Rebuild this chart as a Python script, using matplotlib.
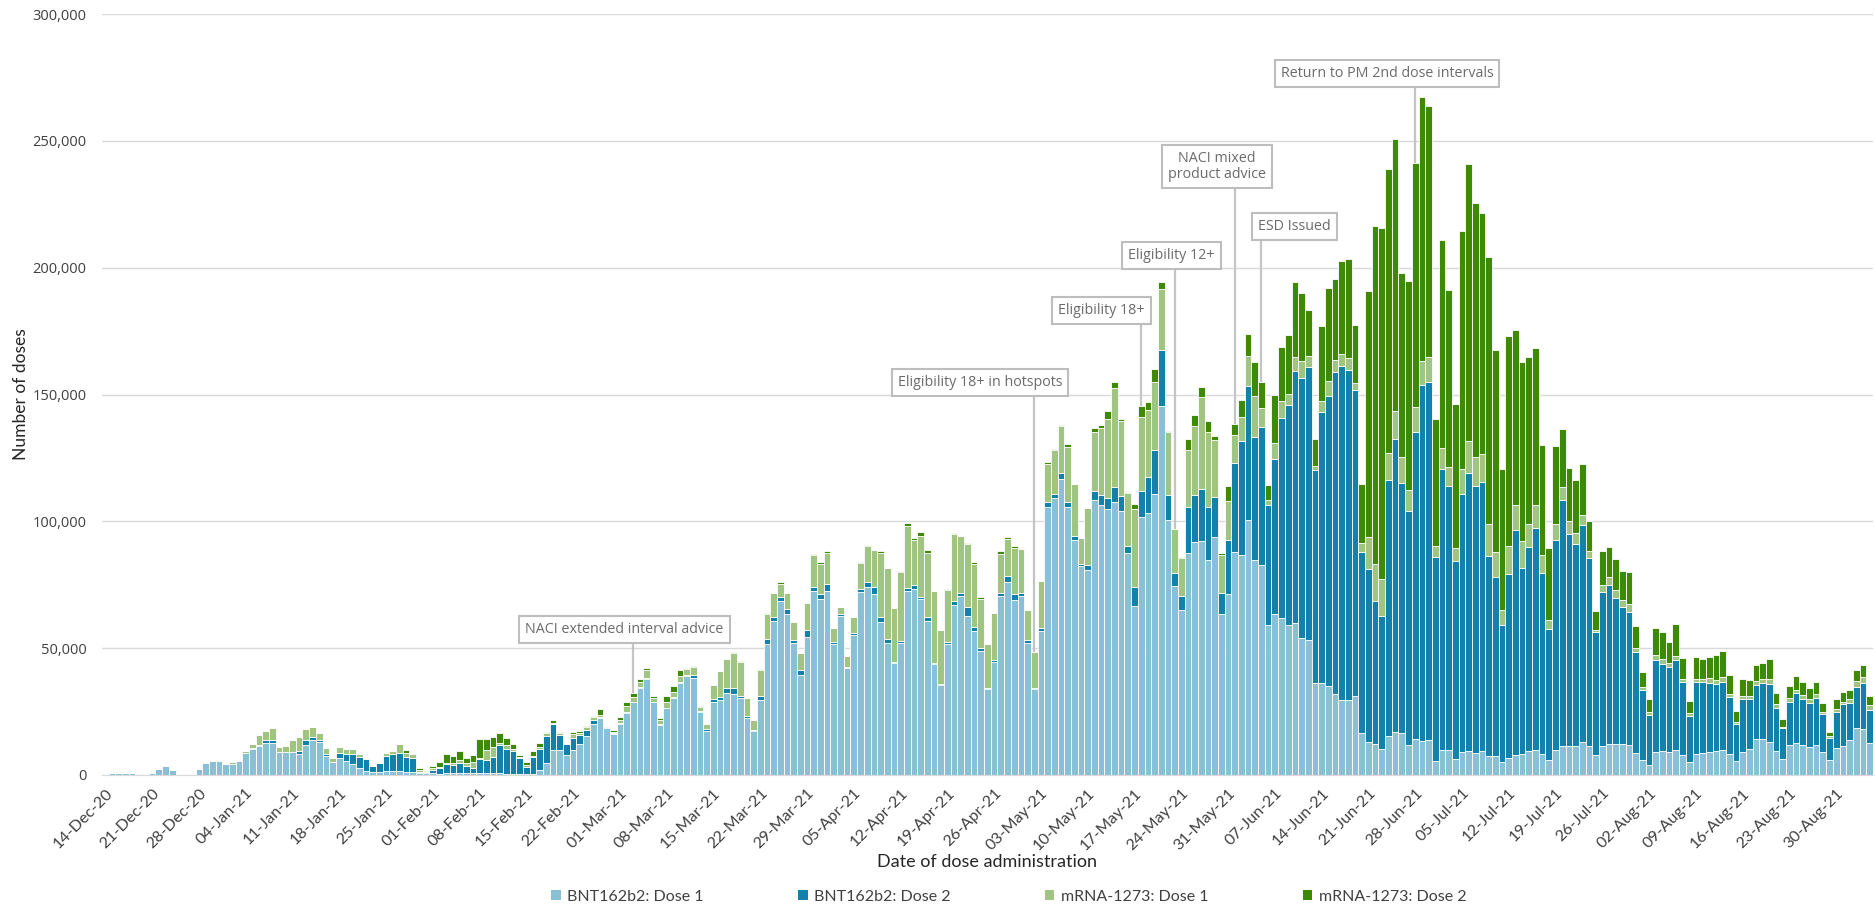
import numpy as np
import pandas as pd
import matplotlib
matplotlib.use("Agg")
import matplotlib.pyplot as plt
from matplotlib.patches import Patch
from matplotlib.ticker import FuncFormatter

# Daily doses administered, in thousands, one row per week starting 14-Dec-20
START_DATE = "2020-12-14"

bnt_d1 = [
    0.3, 0.65, 0.65, 0.9, 0.9, 0.0, 0.3,
    0.65, 2.2, 3.5, 1.8, 0.2, 0.2, 0.0,
    2.2, 4.6, 5.5, 5.5, 4.2, 4.2, 5.4,
    8.5, 10.4, 11.5, 12.8, 12.8, 8.9, 8.9,
    9.2, 8.2, 12.0, 13.7, 12.9, 7.5, 5.0,
    6.6, 5.5, 4.3, 2.6, 1.7, 1.0, 1.0,
    1.6, 1.4, 1.6, 1.0, 1.0, 0.6, 0.6,
    0.6, 0.5, 0.7, 0.6, 0.7, 0.6, 0.6,
    0.7, 0.6, 0.7, 0.7, 0.5, 0.4, 0.4,
    0.3, 0.5, 2.0, 4.9, 9.9, 9.9, 7.9,
    9.9, 12.2, 15.4, 20.1, 22.6, 18.4, 16.2,
    20.1, 24.6, 28.6, 34.2, 38.0, 28.6, 19.7,
    26.3, 30.3, 36.2, 39.1, 38.4, 25.0, 17.4,
    28.9, 29.6, 32.2, 32.0, 30.5, 22.3, 17.3,
    29.7, 51.6, 60.7, 68.5, 63.5, 52.0, 39.3,
    54.5, 72.6, 69.3, 72.6, 51.6, 62.7, 42.1,
    55.3, 72.3, 74.3, 71.3, 60.2, 52.0, 44.2,
    52.0, 72.6, 73.4, 69.3, 60.7, 43.7, 35.5,
    51.6, 67.2, 70.5, 62.7, 56.9, 48.7, 33.8,
    44.5, 70.6, 76.2, 69.0, 70.5, 52.0, 33.8,
    56.6, 105.8, 109.1, 116.7, 105.8, 92.5, 82.5,
    80.7, 108.5, 106.4, 104.9, 107.6, 104.0, 87.6,
    66.7, 101.6, 103.1, 110.7, 145.4, 100.7, 74.4,
    64.9, 87.6, 91.8, 92.2, 84.9, 94.0, 63.4,
    71.3, 88.0, 86.7, 100.7, 84.9, 82.7, 59.1,
    63.4, 61.8, 59.1, 59.8, 54.0, 53.1, 36.2,
    36.4, 34.9, 31.8, 29.5, 29.5, 31.3, 16.7,
    13.1, 12.2, 10.4, 15.5, 17.1, 16.4, 11.8,
    14.0, 13.5, 13.6, 5.5, 10.0, 10.0, 6.2,
    8.9, 9.5, 8.5, 9.5, 7.6, 7.3, 5.3,
    6.7, 8.0, 8.2, 9.5, 10.0, 8.2, 5.8,
    9.8, 11.3, 11.6, 11.6, 13.1, 11.6, 8.0,
    11.3, 12.2, 12.2, 12.2, 11.8, 8.5, 6.0,
    4.0, 9.1, 9.5, 8.9, 9.9, 7.9, 5.0,
    8.3, 8.6, 8.9, 9.5, 9.9, 8.2, 5.5,
    8.9, 10.1, 14.2, 14.2, 12.9, 9.5, 6.3,
    11.8, 12.8, 11.8, 11.2, 11.8, 8.9, 5.9,
    10.5, 11.4, 13.8, 18.4, 18.0, 12.5,
]

bnt_d2 = [
    0, 0, 0, 0, 0, 0, 0,
    0, 0, 0, 0, 0, 0, 0,
    0, 0, 0, 0, 0, 0, 0,
    0, 0.4, 0.4, 1.0, 1.0, 0, 0,
    0, 1.3, 1.8, 1.4, 0.9, 0.8, 0,
    2.0, 2.8, 3.8, 4.6, 4.5, 2.5, 3.9,
    5.9, 6.8, 7.0, 6.2, 5.8, 0.7, 0.4,
    1.4, 2.1, 3.6, 3.4, 3.9, 3.0, 2.0,
    5.5, 5.3, 6.5, 11.1, 9.9, 9.2, 6.2,
    3.0, 6.4, 8.1, 10.5, 10.2, 5.9, 4.2,
    4.6, 3.6, 2.4, 1.6, 0.4, 0.7, 0.5,
    0.2, 0.3, 0.3, 0.4, 0.3, 0.3, 0.3,
    0.3, 0.3, 0.3, 0.5, 0.9, 0.4, 0.7,
    1.0, 1.3, 2.0, 2.1, 0.8, 0.8, 0.3,
    1.6, 2.0, 1.6, 1.6, 2.0, 1.3, 2.0,
    2.5, 1.6, 2.0, 2.5, 0.8, 0.8, 0.5,
    0.8, 1.2, 1.6, 3.0, 2.1, 1.6, 0.3,
    0.8, 1.3, 1.6, 0.8, 1.6, 0.5, 0.3,
    0.8, 1.3, 1.3, 3.6, 1.3, 1.2, 0.5,
    0.8, 1.2, 2.1, 2.5, 1.3, 1.2, 0.5,
    1.2, 1.8, 1.6, 2.4, 1.8, 1.8, 0.5,
    2.2, 3.6, 4.0, 4.5, 5.8, 5.8, 2.7,
    7.3, 10.5, 14.5, 17.5, 22.2, 9.6, 5.1,
    5.5, 18.2, 18.5, 20.4, 20.9, 15.5, 8.2,
    21.3, 35.1, 45.0, 52.7, 48.5, 54.5, 47.3,
    61.1, 78.9, 86.7, 99.3, 102.7, 107.8, 84.2,
    106.7, 114.5, 127.1, 131.8, 130.3, 120.5, 71.3,
    68.2, 56.3, 52.3, 100.7, 115.4, 98.9, 92.2,
    121.3, 140.1, 141.3, 80.4, 110.7, 104.0, 78.3,
    101.8, 109.6, 105.4, 105.9, 78.8, 70.9, 53.8,
    72.7, 88.4, 73.6, 80.5, 87.3, 71.5, 51.8,
    82.7, 97.3, 83.3, 79.3, 85.4, 73.9, 48.2,
    60.9, 62.7, 57.6, 54.0, 52.5, 40.0, 27.7,
    19.6, 36.2, 34.1, 33.6, 35.3, 28.7, 18.4,
    28.2, 27.9, 27.5, 26.5, 26.7, 22.4, 14.6,
    20.9, 19.7, 21.3, 22.0, 23.0, 17.1, 12.1,
    17.1, 19.5, 18.2, 17.1, 18.4, 15.0, 8.6,
    14.2, 16.4, 14.5, 16.4, 18.2, 13.2,
]

mrna_d1 = [
    0, 0, 0, 0, 0, 0, 0,
    0, 0, 0, 0, 0, 0, 0,
    0, 0, 0, 0.6, 0, 0.9, 0.5,
    0.9, 1.4, 3.8, 3.4, 4.9, 2.1, 2.5,
    4.5, 5.3, 4.5, 3.8, 2.6, 2.5, 1.6,
    2.5, 1.8, 2.0, 1.0, 0.5, 0, 0,
    1.0, 1.4, 3.7, 1.6, 1.6, 0.6, 0.3,
    0.65, 0.65, 0.5, 0.65, 1.3, 1.0, 2.6,
    0.4, 3.9, 3.7, 0.9, 1.4, 0.5, 0.4,
    0.5, 0.7, 1.0, 1.0, 0.5, 0.7, 0.5,
    1.7, 0.9, 1.0, 1.0, 0.7, 0.4, 0.4,
    1.3, 2.2, 2.0, 2.2, 2.9, 1.4, 1.7,
    2.0, 2.1, 2.4, 2.1, 3.4, 1.3, 2.1,
    5.5, 9.9, 11.6, 14.0, 13.2, 7.1, 4.1,
    9.9, 9.9, 9.4, 5.3, 6.3, 6.9, 6.6,
    10.7, 12.4, 12.0, 12.4, 5.6, 2.8, 4.5,
    6.3, 10.2, 14.5, 14.4, 25.4, 28.0, 21.5,
    27.2, 24.4, 17.6, 24.3, 25.1, 28.4, 21.5,
    20.6, 26.4, 22.3, 24.9, 25.1, 19.6, 17.3,
    18.6, 15.3, 14.9, 17.9, 17.3, 12.0, 14.0,
    18.6, 14.9, 17.3, 18.5, 21.8, 20.5, 10.5,
    22.5, 23.3, 26.4, 30.9, 39.3, 29.6, 20.9,
    30.9, 29.1, 26.2, 26.7, 24.0, 24.9, 17.6,
    15.1, 22.4, 27.3, 36.4, 29.6, 22.7, 15.1,
    15.6, 10.9, 9.6, 11.8, 16.0, 7.3, 2.2,
    6.4, 6.7, 4.5, 5.8, 6.4, 4.4, 1.3,
    4.5, 5.8, 4.7, 4.5, 4.5, 2.7, 3.3,
    12.7, 14.5, 14.4, 10.9, 11.1, 10.2, 8.5,
    9.6, 9.8, 10.0, 4.5, 8.4, 7.6, 4.9,
    10.0, 12.5, 11.3, 11.3, 12.5, 9.8, 5.8,
    10.9, 10.0, 10.4, 9.1, 9.1, 6.9, 3.6,
    6.4, 4.9, 5.1, 4.4, 4.0, 2.7, 0.9,
    2.7, 3.1, 3.3, 2.7, 3.3, 1.5, 1.0,
    1.3, 2.0, 2.2, 1.8, 1.8, 1.3, 0.9,
    1.4, 1.4, 2.0, 1.6, 2.0, 1.4, 0.9,
    1.3, 1.3, 1.6, 1.7, 2.0, 1.4, 0.7,
    1.3, 1.3, 1.6, 1.6, 1.7, 0.8, 0.9,
    1.3, 1.1, 1.6, 2.2, 2.4, 1.7,
]

mrna_d2 = [
    0, 0, 0, 0, 0, 0, 0,
    0, 0, 0, 0, 0, 0, 0,
    0, 0, 0, 0, 0, 0, 0,
    0, 0, 0, 0, 0, 0, 0,
    0, 0, 0, 0, 0, 0, 0,
    0, 0, 0, 0, 0, 0, 0,
    0, 0, 0, 0.9, 0, 0.9, 0.4,
    0.9, 2.0, 3.4, 2.9, 3.6, 2.2, 2.6,
    7.5, 4.2, 4.2, 3.7, 2.9, 2.1, 0.7,
    1.4, 1.7, 1.7, 0.7, 1.0, 0.4, 0.0,
    0.7, 0.7, 0.7, 0.5, 2.2, 0.0, 0.7,
    1.3, 1.7, 1.3, 0.9, 0.9, 0.7, 0.9,
    2.6, 2.2, 2.4, 0.4, 0.4, 0.4, 0.0,
    0, 0, 0, 0.5, 0.5, 0, 0,
    0.5, 0.5, 0, 0.5, 0, 0, 0,
    0.3, 0.5, 0.5, 0.7, 0, 0, 0,
    0, 0.2, 0.3, 0, 0.5, 0, 0,
    0.3, 1.2, 0.8, 1.3, 1.3, 0, 0,
    0.5, 0.5, 0.3, 0.3, 0.5, 0.7, 0,
    0, 1.2, 0.8, 0.8, 0, 0, 0,
    0, 0.9, 0.4, 0.5, 0.9, 0, 0,
    0, 1.3, 1.3, 3.3, 2.2, 0.9, 0.5,
    1.8, 4.2, 3.1, 5.1, 2.7, 0.5, 0,
    0.4, 4.4, 4.2, 4.0, 4.0, 1.3, 0.9,
    5.8, 4.5, 6.4, 8.7, 13.6, 10.4, 5.8,
    18.9, 21.3, 23.1, 29.5, 26.9, 18.2, 10.9,
    29.5, 36.9, 31.8, 36.7, 39.1, 23.1, 23.6,
    96.9, 133.6, 138.4, 111.8, 107.3, 72.5, 82.4,
    96.4, 103.8, 98.7, 50.0, 81.8, 69.7, 56.7,
    93.6, 109.4, 100.2, 94.9, 105.4, 79.6, 55.8,
    82.7, 68.9, 70.5, 65.8, 61.8, 43.6, 28.2,
    30.9, 22.9, 20.9, 20.9, 20.2, 11.8, 7.5,
    13.3, 12.0, 12.2, 11.5, 12.4, 8.9, 5.8,
    4.9, 10.7, 10.4, 8.3, 12.6, 8.2, 4.9,
    8.6, 7.9, 8.0, 9.6, 10.1, 7.5, 4.2,
    6.7, 6.3, 6.3, 6.2, 7.9, 4.5, 3.0,
    5.0, 5.5, 4.9, 4.3, 4.9, 3.8, 1.7,
    3.8, 3.9, 3.7, 4.3, 4.9, 3.8,
]

series_names = ["BNT162b2: Dose 1", "BNT162b2: Dose 2", "mRNA-1273: Dose 1", "mRNA-1273: Dose 2"]
series_colors = ["#8AC0D5", "#1381AA", "#A0C583", "#3E8A06"]

# Annotations: text, day of the event, box centre (day, doses)
notes = [
    ("NACI extended interval advice", 79, 77.7, 57400),
    ("Eligibility 18+ in hotspots", 139, 130.9, 154600),
    ("Eligibility 18+", 155, 149.1, 183100),
    ("Eligibility 12+", 160, 159.5, 204800),
    ("NACI mixed\nproduct advice", 169, 166.3, 240000),
    ("ESD Issued", 173, 177.9, 216300),
    ("Return to PM 2nd dose intervals", 196, 191.8, 276600),
]

values = [np.array(s) * 1000 for s in (bnt_d1, bnt_d2, mrna_d1, mrna_d2)]
n = len(bnt_d1)
dates = pd.date_range(START_DATE, periods=n, freq="D")
x = np.arange(n)

fig = plt.figure(figsize=(18.75, 9.08), dpi=100)
ax = fig.add_axes([0.0544, 0.1465, 0.9445, 0.838])

bottom = np.zeros(n)
for vals, name, col in zip(values, series_names, series_colors):
    ax.bar(x, vals, width=1.0, bottom=bottom, color=col, edgecolor="white",
           linewidth=0.6, label=name, zorder=2)
    bottom += vals
totals = bottom

# annotation boxes with vertical leader lines
for text, day, bx, by in notes:
    ax.plot([day, day], [totals[day], by], color="#c4c4c4", lw=1.6, zorder=4,
            solid_capstyle="butt")
    ax.text(bx, by, text, ha="center", va="center", fontsize=10.3,
            family="Open Sans", color="#6b6b6b", zorder=5, linespacing=1.1,
            bbox=dict(boxstyle="square,pad=0.42", fc="white", ec="#bdbdbd", lw=1.5))

ax.set_xlim(-0.5, n - 0.5)
ax.set_ylim(0, 300000)
ax.set_yticks(np.arange(0, 300001, 50000))
ax.yaxis.set_major_formatter(FuncFormatter(lambda v, p: f"{v:,.0f}"))
ax.grid(axis="y", color="#d9d9d9", lw=1.0, zorder=0)
ax.set_axisbelow(True)

tick_pos = x[::7]
ax.set_xticks(tick_pos)
ax.set_xticklabels([d.strftime("%d-%b-%y") for d in dates[::7]], rotation=45,
                   ha="right", rotation_mode="anchor")
ax.tick_params(axis="both", length=0, labelcolor="#404040")
ax.tick_params(axis="y", pad=11, labelsize=10.5)
ax.tick_params(axis="x", pad=8, labelsize=11.5)
for lab in ax.get_yticklabels():
    lab.set_family("Open Sans")
for lab in ax.get_xticklabels():
    lab.set_family("Lato")

for side in ["top", "right", "left"]:
    ax.spines[side].set_visible(False)
ax.spines["bottom"].set_color("#d9d9d9")

ax.set_ylabel("Number of doses", family="Lato", fontsize=12.5, color="#262626")
ax.yaxis.set_label_coords(-0.041, 0.5)
ax.set_xlabel("Date of dose administration", family="Lato", fontsize=13, color="#262626")
ax.xaxis.set_label_coords(0.5, -0.104)

handles = [Patch(facecolor=c, edgecolor="none") for c in series_colors]
leg = fig.legend(handles, series_names, loc="center", bbox_to_anchor=(0.538, 1 - 897 / 908),
                 ncol=4, frameon=False, columnspacing=5.9,
                 handlelength=0.6, handleheight=0.6, handletextpad=0.4,
                 prop={"family": "Lato", "size": 11.5})
for t in leg.get_texts():
    t.set_color("#404040")

fig.savefig("out.png", dpi=100)
